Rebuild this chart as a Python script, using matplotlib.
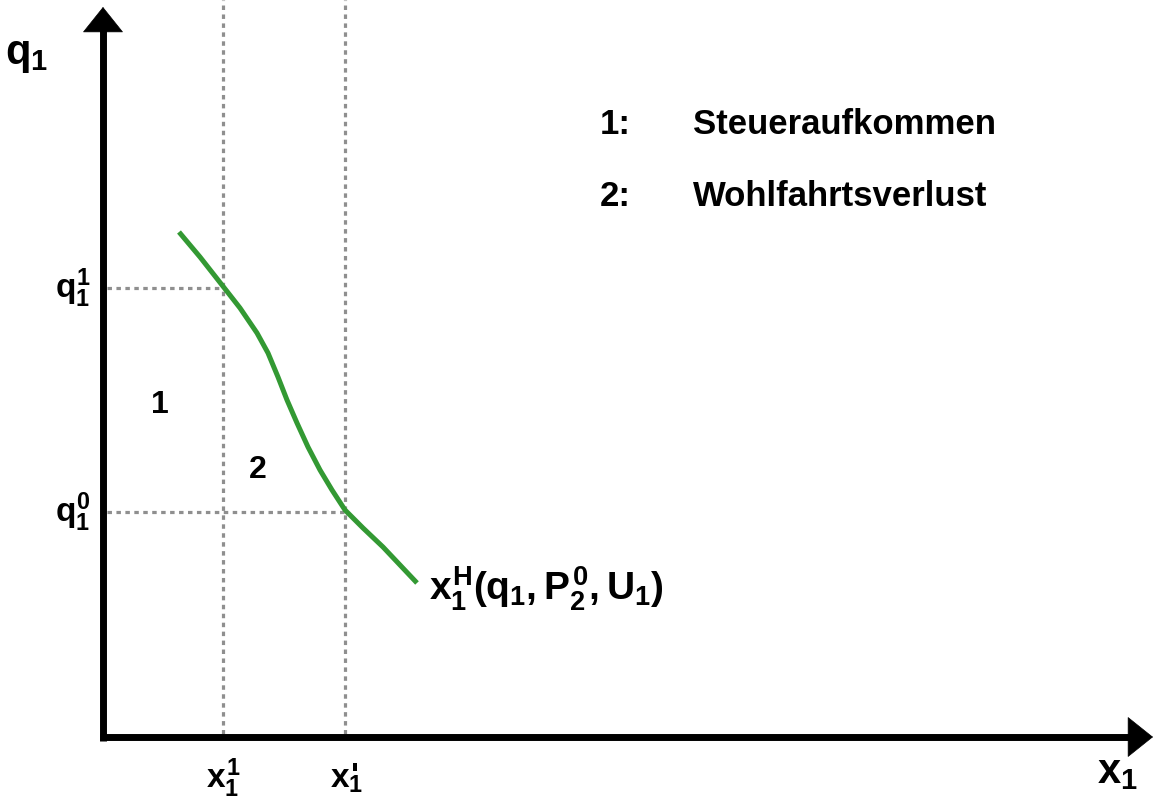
import matplotlib

matplotlib.use('Agg')
import matplotlib.pyplot as plt

# Hicks demand curve x1^H(q1, P2^0, U1), read in plot units (origin at axis corner)
curve_x = [76, 97, 119, 137, 154, 165, 175, 184, 194, 205, 217, 229, 242, 260, 280, 314]
curve_y = [505, 480, 452, 429, 404, 384, 360, 337, 314, 290, 267, 247, 227, 209, 190, 154]

# price levels and quantities
q_levels = [449, 225]
q_labels = [r'$q_1^1$', r'$q_1^0$']
x_levels = [120, 242]
x_labels = [r'$x_1^1$', r'$x_1$']
x_marks = ['', "'"]

legend_keys = ['1:', '2:']
legend_text = ['Steueraufkommen', 'Wohlfahrtsverlust']

plt.rcParams['font.family'] = 'Liberation Sans'
plt.rcParams['font.weight'] = 'bold'
plt.rcParams['mathtext.fontset'] = 'custom'
plt.rcParams['mathtext.rm'] = 'Liberation Sans:bold'
plt.rcParams['mathtext.it'] = 'Liberation Sans:bold'
plt.rcParams['mathtext.bf'] = 'Liberation Sans:bold'

fig = plt.figure(figsize=(11.55, 8), dpi=100)
ax = fig.add_axes([0, 0, 1, 1])
ax.set_xlim(-103, 1052)
ax.set_ylim(-63, 737)
ax.axis('off')

grey = '#8f8f8f'
dots = (0, (1.4, 1.4))

# guide lines
for xv in x_levels:
    ax.plot([xv, xv], [3, 737], color=grey, lw=2.3, ls=dots, zorder=1)
ax.plot([4, x_levels[0]], [q_levels[0], q_levels[0]], color=grey, lw=2.3, ls=dots, zorder=1)
ax.plot([4, x_levels[1]], [q_levels[1], q_levels[1]], color=grey, lw=2.3, ls=dots, zorder=1)

# axes: thick shafts plus filled arrow heads
ax.plot([0, 0], [-3.5, 712], color='black', lw=5, solid_capstyle='butt', zorder=4)
ax.plot([-3.5, 1032], [0, 0], color='black', lw=5, solid_capstyle='butt', zorder=4)
head = dict(arrowstyle='-|>,head_length=1.75,head_width=1.4', lw=0.5, color='black',
            mutation_scale=10, shrinkA=0, shrinkB=0)
ax.annotate('', xy=(0, 730), xytext=(0, 690), arrowprops=head, zorder=5)
ax.annotate('', xy=(1050, 0), xytext=(1010, 0), arrowprops=head, zorder=5)

# demand curve
ax.plot(curve_x, curve_y, color='#339933', lw=3.6, solid_capstyle='butt', zorder=3)

# labels
ax.text(-98, 682, r'$q_1$', fontsize=30, ha='left', va='center')
ax.text(994, -35, r'$x_1$', fontsize=30, ha='left', va='center')
for yv, lab in zip(q_levels, q_labels):
    ax.text(-12, yv, lab, fontsize=24, ha='right', va='center')
for xv, lab, mk in zip(x_levels, x_labels, x_marks):
    if mk:
        ax.text(xv - 15, -51, lab, fontsize=24, ha='left', va='baseline')
        ax.text(xv + 10, -49, mk, fontsize=24, ha='center', va='baseline')
    else:
        ax.text(xv, -51, lab, fontsize=24, ha='center', va='baseline')

ax.text(57, 332, '1', fontsize=23, ha='center', va='center')
ax.text(155, 267, '2', fontsize=23, ha='center', va='center')

ax.text(326, 148, r'$x_1^H(q_1,P_2^0,U_1)$', fontsize=28, ha='left', va='center')

for i, (k, t) in enumerate(zip(legend_keys, legend_text)):
    yv = 613 - 73 * i
    ax.text(497, yv, k, fontsize=25, ha='left', va='center')
    ax.text(590, yv, t, fontsize=25, ha='left', va='center')

fig.savefig('out.png', dpi=100)
